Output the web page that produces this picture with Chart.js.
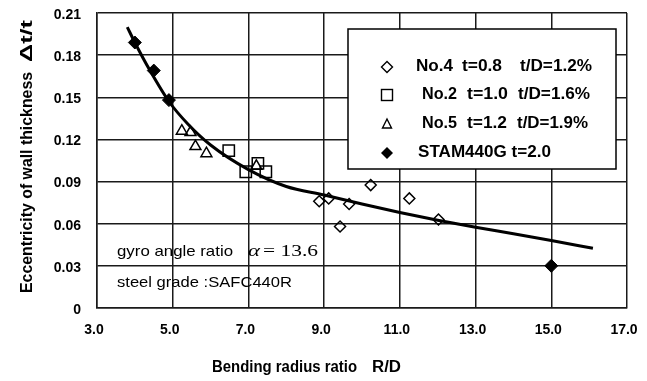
<!DOCTYPE html>
<html><head><meta charset="utf-8">
<script src="https://cdn.jsdelivr.net/npm/chart.js@4"></script>
<style>html,body{margin:0;padding:0;background:#fff}</style>
</head><body>
<canvas id="c" width="647" height="381"></canvas>
<script>
// ---- data ----
const xTicks = [3, 5, 7, 9, 11, 13, 15, 17];
const xTickLabels = ['3.0', '5.0', '7.0', '9.0', '11.0', '13.0', '15.0', '17.0'];
const yTicks = [0, 0.03, 0.06, 0.09, 0.12, 0.15, 0.18, 0.21];
const yTickLabels = ['0', '0.03', '0.06', '0.09', '0.12', '0.15', '0.18', '0.21'];

const no4X = [8.87, 9.12, 9.42, 9.66, 10.23, 11.25, 12.02];
const no4Y = [0.076, 0.078, 0.058, 0.074, 0.0875, 0.078, 0.063];
const no2X = [6.48, 6.93, 7.25, 7.46];
const no2Y = [0.112, 0.097, 0.103, 0.097];
const no5X = [5.24, 5.47, 5.6, 5.89, 7.21];
const no5Y = [0.126, 0.125, 0.115, 0.110, 0.101];
const stamX = [4.0, 4.5, 4.9, 15.0];
const stamY = [0.189, 0.169, 0.148, 0.030];
const fitX = [3.8, 4.0, 4.4, 4.9, 5.4, 6.0, 7.0, 8.0, 9.0, 10.0, 11.0, 12.0, 13.0, 14.0, 15.0, 16.1];
const fitY = [0.200, 0.189, 0.169, 0.147, 0.131, 0.116, 0.0985, 0.0865, 0.0805, 0.074, 0.068, 0.0625, 0.0575, 0.0528, 0.048, 0.0425];

const legendTexts = [
  ['No.4', 't=0.8', 't/D=1.2%'],
  ['No.2', 't=1.0', 't/D=1.6%'],
  ['No.5', 't=1.2', 't/D=1.9%'],
  ['STAM440G t=2.0']
];
const yTitle = ['Eccentricity of wall thickness', 'Δt/t'];
const xTitle = ['Bending radius ratio', 'R/D'];
const note1 = ['gyro angle ratio', 'α', '= 13.6'];
const note2 = 'steel grade :SAFC440R';

const pts = (xs, ys) => xs.map((x, i) => ({x: x, y: ys[i]}));

function fitText(ctx, text, x, y, w) {
  const m = ctx.measureText(text).width;
  ctx.save();
  ctx.translate(x, y);
  ctx.scale(w / m, 1);
  ctx.fillText(text, 0, 0);
  ctx.restore();
}

const deco = {
  id: 'deco',
  afterDraw(chart) {
    const ctx = chart.ctx;
    ctx.save();
    ctx.fillStyle = '#000';
    ctx.strokeStyle = '#000';
    // legend box
    ctx.fillStyle = '#fff';
    ctx.fillRect(348, 29, 268, 140);
    ctx.lineWidth = 1.5;
    ctx.strokeRect(348, 29, 268, 140);
    ctx.fillStyle = '#000';
    // legend markers
    const mx = 387;
    ctx.lineWidth = 1.4;
    ctx.beginPath();
    ctx.moveTo(mx - 5.5, 67); ctx.lineTo(mx, 61.5); ctx.lineTo(mx + 5.5, 67); ctx.lineTo(mx, 72.5); ctx.closePath(); ctx.stroke();
    ctx.strokeRect(mx - 5.5, 95 - 5.5, 11, 11);
    ctx.beginPath();
    ctx.moveTo(mx, 119); ctx.lineTo(mx + 4.5, 128); ctx.lineTo(mx - 4.5, 128); ctx.closePath(); ctx.stroke();
    ctx.beginPath();
    ctx.moveTo(mx - 6, 153); ctx.lineTo(mx, 147); ctx.lineTo(mx + 6, 153); ctx.lineTo(mx, 159); ctx.closePath(); ctx.fill();

    // legend texts
    ctx.font = 'bold 16px "Liberation Sans"';
    ctx.textBaseline = 'middle';
    ctx.textAlign = 'left';
    const rowsY = [67, 95, 124, 153];
    const segs = [
      [[416, 37], [462, 40], [520, 72]],
      [[422, 35], [467, 41], [518, 72]],
      [[422, 35], [467, 40], [517, 71]],
      [[418, 133]]
    ];
    legendTexts.forEach((row, r) => {
      row.forEach((t, k) => fitText(ctx, t, segs[r][k][0], rowsY[r], segs[r][k][1]));
    });

    // annotations
    ctx.font = '15px "Liberation Sans"';
    fitText(ctx, note1[0], 117, 252, 116);
    ctx.font = 'italic 16px "Liberation Serif"';
    fitText(ctx, note1[1], 248, 252, 12);
    ctx.font = '16px "Liberation Serif"';
    fitText(ctx, note1[2], 263, 252, 55);
    ctx.font = '15px "Liberation Sans"';
    fitText(ctx, note2, 117, 283, 175);

    // x title
    ctx.font = 'bold 16px "Liberation Sans"';
    ctx.textBaseline = 'alphabetic';
    fitText(ctx, xTitle[0], 212, 372, 145);
    fitText(ctx, xTitle[1], 372, 372, 29);

    // y title (rotated)
    ctx.save();
    ctx.translate(32, 293);
    ctx.rotate(-Math.PI / 2);
    ctx.font = 'bold 16px "Liberation Sans"';
    fitText(ctx, yTitle[0], 0, 0, 221);
    fitText(ctx, yTitle[1], 231, 0, 42);
    ctx.restore();

    ctx.restore();
  }
};

const gridCol = '#1a1a1a';
new Chart(document.getElementById('c').getContext('2d'), {
  type: 'scatter',
  data: {
    datasets: [
      {data: pts(fitX, fitY), showLine: true, borderColor: '#000', borderWidth: 3, pointRadius: 0,
       cubicInterpolationMode: 'monotone', fill: false},
      {data: pts(no4X, no4Y), pointStyle: 'rectRot', pointRadius: 5.5, borderColor: '#000',
       backgroundColor: 'rgba(0,0,0,0)', borderWidth: 1.5},
      {data: pts(no2X, no2Y), pointStyle: 'rect', pointRadius: 8, borderColor: '#000',
       backgroundColor: 'rgba(0,0,0,0)', borderWidth: 1.5},
      {data: pts(no5X, no5Y), pointStyle: 'triangle', pointRadius: 6.3, borderColor: '#000',
       backgroundColor: 'rgba(0,0,0,0)', borderWidth: 1.5},
      {data: pts(stamX, stamY), pointStyle: 'rectRot', pointRadius: 6.5, borderColor: '#000',
       backgroundColor: '#000', borderWidth: 1}
    ]
  },
  options: {
    responsive: false,
    animation: false,
    devicePixelRatio: 1,
    layout: {padding: {top: 13, right: 20, left: 0, bottom: 0}},
    plugins: {legend: {display: false}, tooltip: {enabled: false}},
    scales: {
      x: {
        type: 'linear', min: 3, max: 17,
        afterBuildTicks: s => { s.ticks = xTicks.map(v => ({value: v})); },
        afterFit: s => { s.height = 73; s.paddingLeft = 0; s.paddingRight = 0; },
        grid: {color: gridCol, lineWidth: 1.5, drawTicks: false},
        border: {color: gridCol, width: 1.5},
        ticks: {
          padding: 14, labelOffset: -3, color: '#000', maxRotation: 0,
          font: {family: '"Liberation Sans"', size: 14, weight: 'bold'},
          callback: (v, i) => xTickLabels[i]
        }
      },
      y: {
        type: 'linear', min: 0, max: 0.21,
        afterBuildTicks: s => { s.ticks = yTicks.map(v => ({value: v})); },
        afterFit: s => { s.width = 97; s.paddingTop = 0; s.paddingBottom = 0; },
        grid: {color: gridCol, lineWidth: 1.5, drawTicks: false},
        border: {color: gridCol, width: 1.5},
        ticks: {
          padding: 16, labelOffset: 2, color: '#000',
          font: {family: '"Liberation Sans"', size: 14, weight: 'bold'},
          callback: (v, i) => yTickLabels[i]
        }
      }
    }
  },
  plugins: [deco]
});
</script>
</body></html>
